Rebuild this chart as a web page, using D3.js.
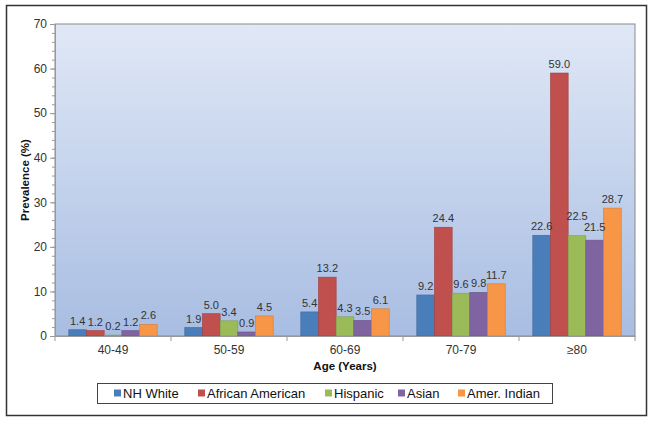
<!DOCTYPE html>
<html>
<head>
<meta charset="utf-8">
<script src="https://cdn.jsdelivr.net/npm/d3@7"></script>
<style>
  body { margin: 0; background: #fff; }
  svg { display: block; font-family: "Liberation Sans", Arial, sans-serif; }
  .tick text { fill: #333; font-size: 12px; }
  .barLabel { fill: #333; font-size: 11px; }
  .axisTitle { fill: #111; font-size: 11.5px; font-weight: bold; }
  .legendText { fill: #111; font-size: 13px; }
</style>
</head>
<body>
<svg id="chart" width="654" height="422"></svg>
<script>
const ageGroups = ['40-49', '50-59', '60-69', '70-79', '≥80'];
const seriesNames = ['NH White', 'African American', 'Hispanic', 'Asian', 'Amer. Indian'];
const nhWhite = [1.4, 1.9, 5.4, 9.2, 22.6];
const africanAmerican = [1.2, 5.0, 13.2, 24.4, 59.0];
const hispanic = [0.2, 3.4, 4.3, 9.6, 22.5];
const asian = [1.2, 0.9, 3.5, 9.8, 21.5];
const amerIndian = [2.6, 4.5, 6.1, 11.7, 28.7];
const yTicks = [0, 10, 20, 30, 40, 50, 60, 70];

const seriesValues = [nhWhite, africanAmerican, hispanic, asian, amerIndian];
const colors = ['#4a7ebb', '#c0504d', '#9bbb59', '#8064a2', '#f79646'];
const strokes = ['#3d6a9f', '#a13f3c', '#819d47', '#6a5287', '#d47d37'];

// a few labels in the last group were lifted to keep them apart
const labelLift = { '4-2': 11, '4-3': 4.5 };

const plotLeft = 55;
const plotRight = 635;
const plotTop = 24;
const plotBottom = 336;

const svg = d3.select('#chart');

// outer frame
svg.append('rect')
  .attr('x', 6.5).attr('y', 5.5)
  .attr('width', 640).attr('height', 410)
  .attr('fill', '#fff')
  .attr('stroke', '#333')
  .attr('stroke-width', 1.5);

const defs = svg.append('defs');
const grad = defs.append('linearGradient')
  .attr('id', 'bg')
  .attr('x1', 0).attr('y1', 0).attr('x2', 0).attr('y2', 1);
grad.append('stop').attr('offset', '0%').attr('stop-color', '#e0e8f6');
grad.append('stop').attr('offset', '100%').attr('stop-color', '#a8bde2');

const x0 = d3.scaleBand()
  .domain(ageGroups)
  .range([plotLeft, plotRight])
  .paddingInner(0)
  .paddingOuter(0);

const x1 = d3.scaleBand()
  .domain(seriesNames)
  .range([0, x0.bandwidth()])
  .paddingOuter(0.78)
  .paddingInner(0);

const y = d3.scaleLinear()
  .domain([0, 70])
  .range([plotBottom, plotTop]);

svg.append('rect')
  .attr('x', plotLeft).attr('y', plotTop)
  .attr('width', plotRight - plotLeft).attr('height', plotBottom - plotTop)
  .attr('fill', 'url(#bg)')
  .attr('stroke', '#8a8a8a')
  .attr('stroke-width', 1);

// minor ticks on y
const minor = svg.append('g')
  .attr('transform', `translate(${plotLeft},0)`)
  .call(d3.axisLeft(y).tickValues(d3.range(0, 71, 2)).tickSize(3).tickFormat(''));
minor.select('.domain').remove();
minor.selectAll('line').attr('stroke', '#999');

const yAxis = svg.append('g')
  .attr('transform', `translate(${plotLeft},0)`)
  .call(d3.axisLeft(y).tickValues(yTicks).tickSize(5).tickPadding(3));
yAxis.select('.domain').attr('stroke', '#999');
yAxis.selectAll('line').attr('stroke', '#999');
yAxis.selectAll('text').style('font-family', 'inherit');

const groups = svg.append('g')
  .selectAll('g')
  .data(ageGroups)
  .enter()
  .append('g')
  .attr('transform', (d) => `translate(${x0(d)},0)`);

const groupData = (d, gi) => seriesNames.map((name, si) => ({ name, si, gi, value: seriesValues[si][gi] }));

groups.selectAll('rect')
  .data(groupData)
  .enter()
  .append('rect')
  .attr('x', (d) => x1(d.name))
  .attr('y', (d) => y(d.value))
  .attr('width', x1.bandwidth())
  .attr('height', (d) => y(0) - y(d.value))
  .attr('fill', (d) => colors[d.si])
  .attr('stroke', (d) => strokes[d.si])
  .attr('stroke-width', 0.6);

groups.selectAll('text')
  .data(groupData)
  .enter()
  .append('text')
  .attr('class', 'barLabel')
  .attr('x', (d) => x1(d.name) + x1.bandwidth() / 2)
  .attr('y', (d) => y(d.value) - 5 - (labelLift[`${d.gi}-${d.si}`] || 0))
  .attr('text-anchor', 'middle')
  .text((d) => d.value.toFixed(1));

// x axis with ticks at group boundaries
const xAxis = svg.append('g')
  .attr('transform', `translate(0,${plotBottom})`)
  .call(d3.axisBottom(x0).tickSize(0).tickPadding(9));
xAxis.select('.domain').attr('stroke', '#999');
xAxis.selectAll('text').style('font-family', 'inherit');

svg.append('g')
  .selectAll('line')
  .data(d3.range(ageGroups.length + 1))
  .enter()
  .append('line')
  .attr('x1', (i) => plotLeft + i * x0.step())
  .attr('x2', (i) => plotLeft + i * x0.step())
  .attr('y1', plotBottom)
  .attr('y2', plotBottom + 5)
  .attr('stroke', '#999');

svg.append('text')
  .attr('class', 'axisTitle')
  .attr('x', (plotLeft + plotRight) / 2)
  .attr('y', 370)
  .attr('text-anchor', 'middle')
  .text('Age (Years)');

svg.append('text')
  .attr('class', 'axisTitle')
  .attr('transform', `translate(29, ${(plotTop + plotBottom) / 2}) rotate(-90)`)
  .attr('text-anchor', 'middle')
  .text('Prevalence (%)');

// legend
const legend = svg.append('g');
legend.append('rect')
  .attr('x', 97.5).attr('y', 383.5)
  .attr('width', 455).attr('height', 20)
  .attr('fill', '#fff')
  .attr('stroke', '#444')
  .attr('stroke-width', 1);

const legendX = [114, 198, 325, 398, 458];
const items = legend.selectAll('g')
  .data(seriesNames)
  .enter()
  .append('g')
  .attr('transform', (d, i) => `translate(${legendX[i]},393)`);
items.append('rect')
  .attr('x', 0).attr('y', -3.5)
  .attr('width', 7).attr('height', 7)
  .attr('fill', (d, i) => colors[i]);
items.append('text')
  .attr('class', 'legendText')
  .attr('x', 9)
  .attr('y', 4.7)
  .text((d) => d);
</script>
</body>
</html>
